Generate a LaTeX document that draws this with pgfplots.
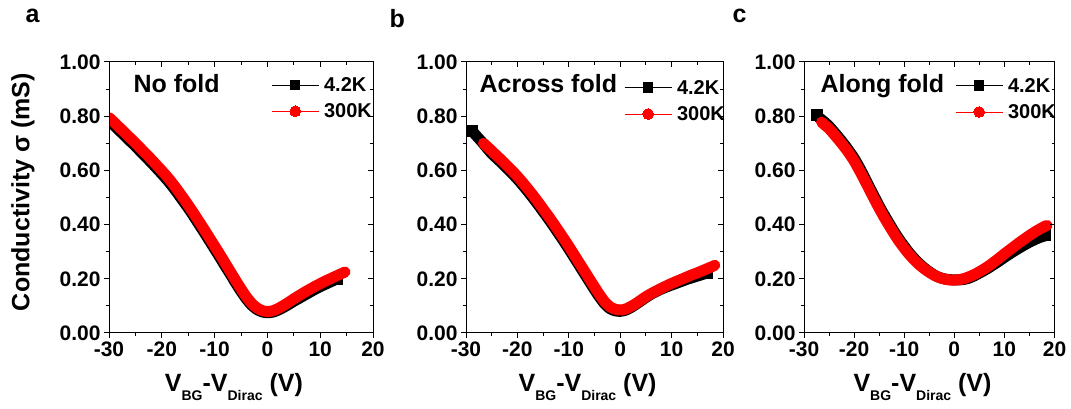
\documentclass[border=0pt]{standalone}
\usepackage{fontspec}
\setmainfont{Liberation Sans}
\usepackage{pgfplots}
\usepackage{pgfplotstable}
\pgfplotsset{compat=1.18}
\newcommand{\fs}[1]{\fontsize{#1}{#1}\selectfont\bfseries}

% Panel a: No fold
\pgfplotstableread{
x y
-30 0.795
-29 0.777
-28 0.758
-27 0.739
-26 0.720
-25 0.701
-24 0.681
-23 0.661
-22 0.641
-21 0.620
-20 0.599
-19 0.577
-18 0.553
-17 0.527
-16 0.500
-15 0.472
-14 0.443
-13 0.413
-12 0.383
-11 0.352
-10 0.321
-9 0.290
-8 0.258
-7 0.226
-6 0.194
-5 0.163
-4 0.134
-3 0.110
-2 0.093
-1 0.083
0 0.079
1 0.082
2 0.090
3 0.101
4 0.113
5 0.126
6 0.138
7 0.150
8 0.161
9 0.172
10 0.182
11 0.192
12 0.201
13 0.210
14 0.219
14.7 0.225
}\aRed
\pgfplotstableread{
x y
-30 0.783
-29 0.765
-28 0.746
-27 0.727
-26 0.708
-25 0.689
-24 0.669
-23 0.649
-22 0.629
-21 0.608
-20 0.587
-19 0.565
-18 0.541
-17 0.515
-16 0.488
-15 0.461
-14 0.432
-13 0.402
-12 0.372
-11 0.341
-10 0.310
-9 0.279
-8 0.247
-7 0.216
-6 0.184
-5 0.154
-4 0.126
-3 0.103
-2 0.087
-1 0.078
0 0.075
1 0.077
2 0.084
3 0.094
4 0.105
5 0.117
6 0.128
7 0.139
8 0.150
9 0.161
10 0.171
11 0.180
12 0.189
13 0.198
13.2 0.200
}\aBlk
% Panel b: Across fold
\pgfplotstableread{
x y
-26.6 0.700
-26 0.690
-25 0.672
-24 0.654
-23 0.636
-22 0.617
-21 0.598
-20 0.578
-19 0.556
-18 0.533
-17 0.509
-16 0.484
-15 0.458
-14 0.432
-13 0.405
-12 0.377
-11 0.349
-10 0.320
-9 0.290
-8 0.260
-7 0.230
-6 0.200
-5 0.170
-4 0.141
-3 0.115
-2 0.097
-1 0.088
0 0.085
1 0.088
2 0.097
3 0.108
4 0.121
5 0.134
6 0.145
7 0.155
8 0.165
9 0.174
10 0.183
11 0.191
12 0.199
13 0.207
14 0.215
15 0.222
16 0.230
17 0.238
18 0.246
18.4 0.250
}\bRed
\pgfplotstableread{
x y
-28.8 0.745
-28 0.728
-27 0.707
-26 0.684
-25 0.662
-24 0.644
-23 0.626
-22 0.607
-21 0.588
-20 0.568
-19 0.546
-18 0.523
-17 0.499
-16 0.474
-15 0.448
-14 0.422
-13 0.395
-12 0.367
-11 0.339
-10 0.310
-9 0.280
-8 0.250
-7 0.220
-6 0.190
-5 0.160
-4 0.132
-3 0.107
-2 0.090
-1 0.082
0 0.080
1 0.084
2 0.093
3 0.105
4 0.118
5 0.131
6 0.143
7 0.153
8 0.162
9 0.170
10 0.177
11 0.184
12 0.191
13 0.198
14 0.204
15 0.210
16 0.216
16.9 0.221
}\bBlk
% Panel c: Along fold
\pgfplotstableread{
x y
-26.5 0.778
-26 0.770
-25 0.754
-24 0.733
-23 0.711
-22 0.688
-21 0.663
-20 0.635
-19 0.602
-18 0.567
-17 0.531
-16 0.495
-15 0.460
-14 0.427
-13 0.396
-12 0.366
-11 0.338
-10 0.313
-9 0.290
-8 0.270
-7 0.252
-6 0.237
-5 0.224
-4 0.213
-3 0.205
-2 0.199
-1 0.196
0 0.195
1 0.197
2 0.201
3 0.208
4 0.216
5 0.226
6 0.237
7 0.249
8 0.263
9 0.277
10 0.292
11 0.306
12 0.320
13 0.334
14 0.347
15 0.360
16 0.372
17 0.383
18 0.393
18.5 0.397
}\cRed
\pgfplotstableread{
x y
-27.5 0.803
-27 0.795
-26 0.780
-25 0.763
-24 0.742
-23 0.720
-22 0.697
-21 0.672
-20 0.645
-19 0.613
-18 0.578
-17 0.541
-16 0.505
-15 0.469
-14 0.436
-13 0.405
-12 0.374
-11 0.346
-10 0.320
-9 0.296
-8 0.275
-7 0.256
-6 0.240
-5 0.226
-4 0.214
-3 0.205
-2 0.200
-1 0.197
0 0.196
1 0.196
2 0.198
3 0.203
4 0.211
5 0.221
6 0.231
7 0.242
8 0.254
9 0.266
10 0.279
11 0.291
12 0.303
13 0.314
14 0.325
15 0.335
16 0.344
17 0.352
18 0.358
18.2 0.360
}\cBlk

\pgfplotsset{
  base/.style={
    scale only axis, anchor=south west,
    xmin=-30, xmax=20, ymin=0, ymax=1,
    xtick={-30,-20,-10,0,10,20},
    ytick={0,0.2,0.4,0.6,0.8,1},
    minor x tick num=1, minor y tick num=1,
    major tick length=5pt, minor tick length=3pt,
    axis line style={line width=1pt},
    tick style={black, line width=1pt},
    /pgf/number format/assume math mode=true,
  },
  main/.style={base,
    xtick pos=left, ytick pos=left, tick align=outside,
    ticklabel style={font=\fs{21}},
    yticklabel style={/pgf/number format/fixed, /pgf/number format/fixed zerofill, /pgf/number format/precision=2},
    xlabel={V\raisebox{-9pt}{\fs{14}BG}-V\raisebox{-9pt}{\fs{14}Dirac} (V)},
    xlabel style={font=\fs{25}, at={(axis description cs:0.473,0)}, anchor=base, yshift=-59pt},
    axis on top, clip marker paths=true,
    legend cell align=left,
    legend style={draw=none, fill=none, inner sep=0pt, anchor=north west, font=\fs{20},
      row sep=6.7pt, nodes={inner sep=2pt}, /tikz/every odd column/.style={column sep=3pt}},
    legend image code/.code={\draw[mark repeat=2,mark phase=2,##1] plot coordinates {(0pt,0pt) (23.5pt,0pt) (47pt,0pt)};},
  },
  over/.style={base, xtick pos=right, ytick pos=right, tick align=inside,
    xticklabels={}, yticklabels={}},
  redband/.style={red, smooth, line width=11pt, line join=round, line cap=round, mark=none},
  blkband/.style={black, smooth, line width=11pt, line join=round, line cap=butt,
    mark=square*, mark size=5.5pt, mark options={line width=0pt, fill=black}},
  legblk/.style={black, line width=0.8pt, mark=square*, mark size=4.8pt, mark options={solid, line width=0pt, fill=black}},
  legred/.style={red, line width=0.8pt, mark=*, mark size=5.4pt, mark options={solid, line width=0pt, fill=red}},
}

\begin{document}
\begin{tikzpicture}
\useasboundingbox (0pt,0pt) rectangle (1071pt,409pt);
% ---------- panel a ----------
\begin{axis}[main, at={(109pt,76pt)}, width=264pt, height=271pt,
  ylabel={Conductivity σ (mS)},
  ylabel style={font=\fs{25}, at={(axis description cs:-0.326,0.52)}, anchor=center},
  legend style={at={(axis description cs:0.614,0.9515)}}]
\addplot[blkband, mark indices={1,45}, forget plot] table[x=x,y=y] {\aBlk};
\addplot[redband, forget plot] table[x=x,y=y] {\aRed};
\addlegendimage{legblk}\addlegendentry{4.2K}
\addlegendimage{legred}\addlegendentry{300K}
\node[anchor=base west, font=\fs{25}] at (axis description cs:0.0795,0.886) {No fold};
\end{axis}
\begin{axis}[over, at={(109pt,76pt)}, width=264pt, height=271pt]
\end{axis}
% ---------- panel b ----------
\begin{axis}[main, at={(466pt,76pt)}, width=257pt, height=271pt,
  legend style={at={(axis description cs:0.615,0.9415)}}]
\addplot[blkband, mark indices={1,47}, forget plot] table[x=x,y=y] {\bBlk};
\addplot[redband, forget plot] table[x=x,y=y] {\bRed};
\addlegendimage{legblk}\addlegendentry{4.2K}
\addlegendimage{legred}\addlegendentry{300K}
\node[anchor=base west, font=\fs{25}] at (axis description cs:0.039,0.886) {Across fold};
\end{axis}
\begin{axis}[over, at={(466pt,76pt)}, width=257pt, height=271pt]
\end{axis}
% ---------- panel c ----------
\begin{axis}[main, at={(804pt,76pt)}, width=250.5pt, height=271pt,
  legend style={at={(axis description cs:0.603,0.9489)}}]
\addplot[blkband, mark indices={1,48}, forget plot] table[x=x,y=y] {\cBlk};
\addplot[redband, forget plot] table[x=x,y=y] {\cRed};
\addlegendimage{legblk}\addlegendentry{4.2K}
\addlegendimage{legred}\addlegendentry{300K}
\node[anchor=base west, font=\fs{25}] at (axis description cs:0.052,0.889) {Along fold};
\end{axis}
\begin{axis}[over, at={(804pt,76pt)}, width=250.5pt, height=271pt]
\end{axis}
% panel letters
\node[anchor=base west, font=\fs{25}] at (22pt,386pt) {a};
\node[anchor=base west, font=\fs{25}] at (386pt,381pt) {b};
\node[anchor=base west, font=\fs{25}] at (729pt,386pt) {c};
\end{tikzpicture}
\end{document}
